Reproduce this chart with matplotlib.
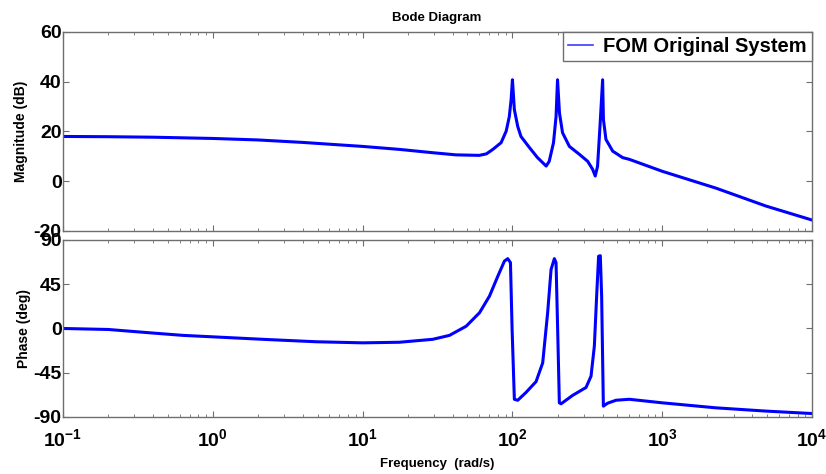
import matplotlib

matplotlib.use("Agg")
import matplotlib.pyplot as plt  # noqa: E402
from matplotlib.ticker import LogLocator, NullFormatter  # noqa: E402

BLUE, FRAME = "#0000ff", "#6e6e6e"

# magnitude curve (rad/s, dB)
mag_w = [0.1, 0.2, 0.4, 1, 2, 4, 6.3, 10, 17.6, 29, 42, 60, 67, 74, 84, 90.8, 95.3, 98,
         100, 103, 108.5, 114, 130, 147, 168, 176, 188, 195.5, 200, 206, 216, 240, 280,
         318, 343, 357, 370, 384, 400, 405, 421, 467, 544, 603, 1000, 2290, 4940, 10000]
mag_db = [18, 17.9, 17.7, 17.2, 16.6, 15.6, 14.8, 14, 12.8, 11.5, 10.6, 10.4, 11, 12.8,
          15.5, 20.1, 26, 32.8, 40.8, 28.8, 22, 18, 13.5, 9.5, 6.1, 8, 15.5, 26, 40.8, 27.5,
          19.5, 14, 10.8, 8, 4.8, 2.1, 6, 22, 40.8, 24.8, 16.8, 12.1, 9.5, 8.8, 4, -2.8,
          -10, -15.6]

# phase curve (rad/s, deg)
ph_w = [0.1, 0.2, 0.38, 0.63, 1, 2.28, 4.9, 10, 17.6, 29.4, 38, 49.1, 60.3, 70.3, 79.8,
        88.4, 93, 97, 99.5, 103, 108.5, 123.3, 143.8, 159.2, 171.8, 181.1, 190.5, 195.5,
        200.4, 205.7, 211.2, 252.4, 309.9, 334.7, 352.2, 364.9, 376, 386, 394, 404.6,
        431.5, 491, 602.6, 1000, 2280, 4910, 10000]
ph_deg = [0, -1, -4.4, -7, -8.5, -11.2, -13.5, -14.6, -14, -11, -7, 2.3, 16, 33, 53, 68.5,
          71, 67, -1, -72, -73, -65, -54, -35, 16, 60, 71, 67, -1, -75.6, -76.6, -68, -60,
          -48.5, -18, 33, 73.5, 74, 33, -79, -76, -73, -72, -75.6, -80.7, -84, -86.5]

mag_ticks = [60, 40, 20, 0, -20]
ph_ticks = [90, 45, 0, -45, -90]
x_ticks = [0.1, 1, 10, 100, 1000, 10000]
x_labels = [r"$\mathbf{10^{-1}}$", r"$\mathbf{10^{0}}$", r"$\mathbf{10^{1}}$",
            r"$\mathbf{10^{2}}$", r"$\mathbf{10^{3}}$", r"$\mathbf{10^{4}}$"]

plt.rcParams.update(
    {
        "font.family": "Liberation Sans",
        "mathtext.fontset": "custom",
        "mathtext.rm": "Liberation Sans",
        "mathtext.bf": "Liberation Sans:bold",
        "axes.edgecolor": FRAME,
        "axes.linewidth": 1.0,
    }
)

fig = plt.figure(figsize=(8.26, 4.74), dpi=100)
ax1 = fig.add_axes([0.0763, 0.5127, 0.9068, 0.4198])
ax2 = fig.add_axes([0.0763, 0.1203, 0.9068, 0.3734])

ax1.semilogx(mag_w, mag_db, color=BLUE, lw=2.2, label="FOM Original System")
ax2.semilogx(ph_w, ph_deg, color=BLUE, lw=2.2)

for ax, ticks in [(ax1, mag_ticks), (ax2, ph_ticks)]:
    ax.set_xlim(0.1, 10000)
    ax.set_ylim(min(ticks), max(ticks))
    ax.set_yticks(ticks)
    ax.set_yticklabels([str(t) for t in ticks], fontsize=14, fontweight="bold")
    ax.xaxis.set_minor_locator(LogLocator(base=10, subs=range(2, 10), numticks=20))
    ax.xaxis.set_minor_formatter(NullFormatter())
    ax.tick_params(which="both", direction="in", top=True, right=True, color=FRAME)
    ax.tick_params(which="major", length=4, pad=1)
    ax.tick_params(which="minor", length=2.5)
    ax.set_xticks(x_ticks)

ax1.set_xticklabels([])
ax2.set_xticklabels(x_labels, fontsize=14)
ax2.tick_params(axis="x", which="major", pad=8)

ax1.set_ylabel("Magnitude (dB)", fontsize=10, fontweight="bold", labelpad=4)
ax2.set_ylabel("Phase (deg)", fontsize=10, fontweight="bold", labelpad=2)
ax2.set_xlabel("Frequency  (rad/s)", fontsize=9.5, fontweight="bold", labelpad=6)
fig.text(0.529, 0.962, "Bode Diagram", ha="center", va="center", fontsize=9.5,
         fontweight="bold")

leg = ax1.legend(loc="upper right", borderaxespad=0, fancybox=False, framealpha=1,
                 edgecolor=FRAME, handlelength=1.25, handletextpad=0.5, borderpad=0.25,
                 prop={"size": 14.5, "weight": "bold"})
leg.get_frame().set_linewidth(1.0)
for h in leg.get_lines():
    h.set_linewidth(1.2)
    h.set_color("#3b3bff")

fig.savefig("out.png", dpi=100)
